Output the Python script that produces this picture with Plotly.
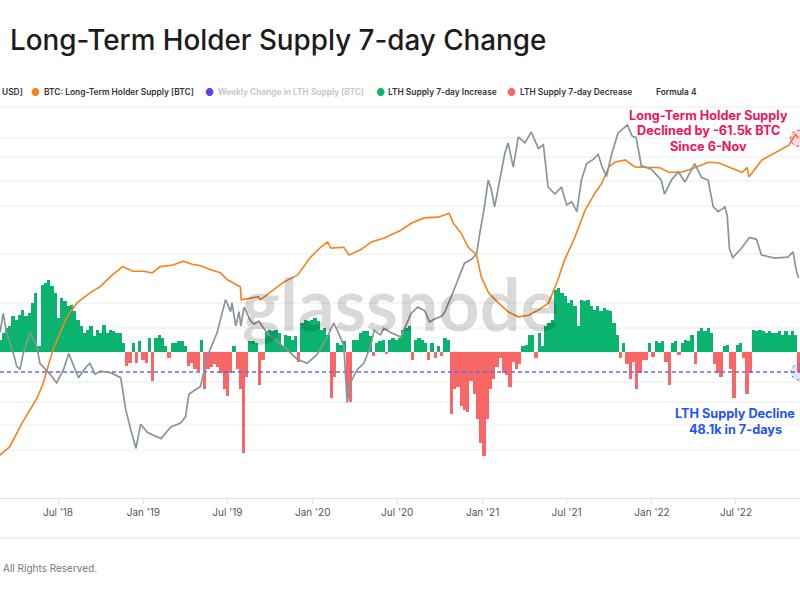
import pandas as pd
import plotly.graph_objects as go

# ---------------- data ----------------
week_start = "2018-02-26"
# weekly LTH supply 7-day change, thousands of BTC
lth_change_k = [
    30, 46, 58, 62, 86, 78, 90, 102, 86, 94, 118, 142,
    14, 162, 166, 172, 158, 142, 82, 130, 122, 110, 114, 98,
    78, 62, 46, 54, 62, 38, 54, 46, 66, 46, 54, 50, 46, 46,
    22, -34, -26, 22, -26, 26, -20, -26, 34, -70, 34, 42, 34, 14, -14, 22, 22, 26, 26, 14, -34, -26, -42, -46,
    30, -90, -40, -35, -30, -35, -50, -90, -105, -50, 14, -40, -90, -243, -60, 26, 26, 22, -80, -20,
    50, 54, 50, 54, 46, 14, 42, 38, 30, 38, -25, 70, 78, 74, 78, 82, 74, 54, 58, 42,
    -110, -60, 22, 18, 26, -110, -120, 30, 30, 46, 50, 50, 38, -10, 22, 26, 30, -5, 30, 34, 30, 34,
    54, 58, 62, -20, 30, 34, 30, 22, -20, 22, -15, 14, -10, 34, 30,
    -150, -90, -85, -130, -140, -145, -70, -100, -160, -220, -250, -160, -90, -65, -35, -15, -50, -55, -85, -25, -40, -30,
    14, 18, 40, 42, -15, 46, 14, 62, 70, 78, 150, 154, 142, 135, 118, 126, 110, 62, 126, 122, 126, 110, 102, 110, 98,
    105, 100, 98, 70, 40, -15, 22, -30, -65, -25, -90, -50, -20, -20, 22, -12, 26, 22, 26, -25, -80, 22, 26, -8, 22, 30, 26, 42,
    -30, 50, 58, 50, 58, 46, -30, -50, -60, 14, 18, -40, -110, 18, 22, -15, -100, -50,
    54, 50, 54, 50, 46, 50, 46, 46, 50, 42, 50, 42, 50, 42, -48.1,
]
LTH_DECLINE_K = -48.1

supply_dates = [
    "2018-02-26", "2018-03-19", "2018-04-16", "2018-05-17", "2018-05-30", "2018-06-20",
    "2018-07-20", "2018-08-11", "2018-09-08", "2018-09-30", "2018-10-22", "2018-11-17",
    "2018-12-10", "2019-01-01", "2019-01-20", "2019-02-06", "2019-03-06", "2019-03-28",
    "2019-04-16", "2019-05-04", "2019-05-26", "2019-06-16", "2019-07-01", "2019-07-23",
    "2019-07-29", "2019-07-31", "2019-08-19", "2019-09-06", "2019-09-10", "2019-10-08",
    "2019-10-30", "2019-11-29", "2019-12-27", "2020-01-18", "2020-02-02", "2020-02-09",
    "2020-03-08", "2020-03-19", "2020-04-14", "2020-05-06", "2020-06-03", "2020-07-09",
    "2020-07-31", "2020-08-28", "2020-09-27", "2020-10-21", "2020-10-30", "2020-11-16",
    "2020-12-01", "2020-12-19", "2020-12-29", "2021-01-14", "2021-02-04", "2021-02-26",
    "2021-03-19", "2021-04-10", "2021-05-02", "2021-05-23", "2021-06-10", "2021-06-27",
    "2021-07-19", "2021-08-10", "2021-08-31", "2021-09-15", "2021-09-30", "2021-10-13",
    "2021-11-04", "2021-11-25", "2021-12-25", "2022-01-18", "2022-02-06", "2022-03-06",
    "2022-04-03", "2022-05-03", "2022-05-25", "2022-06-16", "2022-07-14", "2022-07-25",
    "2022-07-29", "2022-08-26", "2022-09-23", "2022-10-23", "2022-11-06", "2022-11-13",
]
supply_m = [
    9.80, 9.91, 10.23, 10.54, 10.73, 11.16,
    11.59, 11.77, 11.90, 11.98, 12.11, 12.24,
    12.18, 12.18, 12.16, 12.24, 12.26, 12.31,
    12.27, 12.25, 12.20, 12.16, 12.07, 12.00,
    11.98, 11.81, 11.83, 11.85, 11.81, 11.94,
    12.04, 12.13, 12.36, 12.49, 12.56, 12.48,
    12.49, 12.39, 12.46, 12.56, 12.61, 12.71,
    12.80, 12.87, 12.88, 12.93, 12.80, 12.67,
    12.49, 12.39, 12.11, 11.90, 11.77, 11.65,
    11.59, 11.61, 11.68, 11.77, 12.03, 12.33,
    12.62, 12.97, 13.19, 13.32, 13.53, 13.59,
    13.62, 13.53, 13.52, 13.52, 13.46, 13.46,
    13.52, 13.59, 13.58, 13.53, 13.46, 13.52,
    13.40, 13.62, 13.71, 13.81, 13.95, 13.90,
]

price_dates = [
    "2018-02-26", "2018-03-05", "2018-03-12", "2018-03-27", "2018-04-03", "2018-04-10",
    "2018-04-17", "2018-05-02", "2018-05-16", "2018-05-23", "2018-06-14", "2018-06-28",
    "2018-07-13", "2018-07-24", "2018-08-14", "2018-09-01", "2018-09-08", "2018-09-19",
    "2018-09-30", "2018-10-22", "2018-11-13", "2018-11-24", "2018-12-05", "2018-12-16",
    "2018-12-26", "2019-01-10", "2019-01-24", "2019-02-08", "2019-03-01", "2019-03-22",
    "2019-04-02", "2019-04-09", "2019-04-27", "2019-05-04", "2019-05-19", "2019-06-09",
    "2019-06-27", "2019-07-08", "2019-07-11", "2019-07-19", "2019-07-26", "2019-07-30",
    "2019-08-06", "2019-08-13", "2019-08-20", "2019-08-27", "2019-09-07", "2019-09-14",
    "2019-09-24", "2019-10-27", "2019-11-06", "2019-11-28", "2019-12-20", "2020-01-10",
    "2020-02-01", "2020-02-15", "2020-02-23", "2020-03-08", "2020-03-15", "2020-03-22",
    "2020-04-06", "2020-04-20", "2020-05-05", "2020-05-12", "2020-05-26", "2020-06-02",
    "2020-06-17", "2020-07-09", "2020-07-31", "2020-08-14", "2020-08-29", "2020-09-09",
    "2020-09-19", "2020-10-04", "2020-10-11", "2020-10-25", "2020-11-09", "2020-11-23",
    "2020-12-08", "2020-12-19", "2020-12-26", "2021-01-05", "2021-01-13", "2021-01-20",
    "2021-01-27", "2021-02-07", "2021-02-18", "2021-02-25", "2021-03-08", "2021-03-19",
    "2021-04-02", "2021-04-16", "2021-05-01", "2021-05-12", "2021-05-22", "2021-06-06",
    "2021-06-20", "2021-07-01", "2021-07-12", "2021-07-23", "2021-08-02", "2021-08-13",
    "2021-08-28", "2021-09-07", "2021-09-14", "2021-09-25", "2021-10-06", "2021-10-20",
    "2021-11-09", "2021-11-19", "2021-11-28", "2021-12-09", "2021-12-31", "2022-01-21",
    "2022-01-28", "2022-02-12", "2022-02-27", "2022-03-13", "2022-04-03", "2022-04-18",
    "2022-05-02", "2022-05-13", "2022-05-24", "2022-06-07", "2022-06-12", "2022-06-17",
    "2022-06-24", "2022-07-12", "2022-07-30", "2022-08-14", "2022-08-25", "2022-09-22",
    "2022-10-21", "2022-11-01", "2022-11-09", "2022-11-13",
]
price_usd = [
    9400, 11300, 9400, 7700, 6800, 6600,
    7700, 9400, 8300, 7000, 6300, 5800,
    6600, 7700, 6100, 6800, 7000, 6300,
    6500, 6400, 6100, 4500, 3680, 3100,
    3900, 3600, 3500, 3400, 3800, 3950,
    4200, 5200, 5500, 5600, 7500, 9400,
    12900, 11500, 12500, 10000, 11500, 10000,
    12000, 11300, 10500, 10200, 10500, 10000,
    9400, 8300, 8000, 7300, 7000, 7600,
    9000, 10300, 9600, 8300, 4800, 5800,
    6600, 7000, 8300, 9600, 9200, 9800,
    9400, 9000, 11300, 12000, 11600, 10400,
    10700, 11000, 11400, 13200, 15600, 18300,
    19000, 20000, 24400, 31400, 40600, 36900,
    31400, 40600, 52700, 58000, 46000, 61400,
    58000, 64400, 55000, 57000, 38000, 35500,
    38000, 32000, 33000, 30000, 40600, 47500,
    49600, 52000, 47000, 42000, 52000, 63800,
    68900, 62000, 61000, 46600, 45000, 40600,
    35500, 40600, 44000, 39800, 47500, 41600,
    40600, 31400, 30000, 31400, 29000, 21000,
    19300, 21000, 23400, 23000, 19800, 19200,
    19400, 20400, 16700, 15900,
]

x_range = ["2018-02-26", "2022-11-16"]
title_text = "Long-Term Holder Supply 7-day Change"
legend_labels = ["USD]", "BTC: Long-Term Holder Supply [BTC]", "Weekly Change in LTH Supply [BTC]",
                 "LTH Supply 7-day Increase", "LTH Supply 7-day Decrease", "Formula 4"]
note_supply = ["Long-Term Holder Supply", "Declined by -61.5k BTC", "Since 6-Nov"]
note_decline = ["LTH Supply Decline", "48.1k in 7-days"]

# ---------------- layout helpers ----------------
W, H = 800, 600
TOP, BOT = 107, 498          # plot area pixel rows
def py(p):                   # pixel row -> paper y
    return (BOT - p) / (BOT - TOP)
def px(p):
    return p / W

FONT = "Inter, Roboto, sans-serif"
GREEN = "#0bb46e"
RED = "#f86666"
ORANGE = "#f7821b"
GREY = "#87959c"
BLUE_DASH = "#5c6cf2"
PINK = "#f0145a"
BLUE_TXT = "#1d55f5"

week_dates = pd.date_range(week_start, periods=len(lth_change_k), freq="7D")
pos = [v if v > 0 else None for v in lth_change_k]
neg = [v if v < 0 else None for v in lth_change_k]
week_ms = 7 * 24 * 3600 * 1000

# bar axis: zero at pixel 352, decline level at pixel 372
k_per_px = abs(LTH_DECLINE_K) / (372 - 352)
bar_range = [-(BOT - 352) * k_per_px, (352 - TOP) * k_per_px]

fig = go.Figure()
fig.add_trace(go.Bar(x=week_dates, y=pos, width=week_ms, marker=dict(color=GREEN, line_width=0),
                     yaxis="y", showlegend=False))
fig.add_trace(go.Bar(x=week_dates, y=neg, width=week_ms, marker=dict(color=RED, line_width=0),
                     yaxis="y", showlegend=False))
fig.add_trace(go.Scatter(x=x_range, y=[LTH_DECLINE_K, LTH_DECLINE_K], mode="lines",
                         line=dict(color=BLUE_DASH, width=1.6, dash="4px,3px"), yaxis="y", showlegend=False))
fig.add_trace(go.Scatter(x=price_dates, y=price_usd, mode="lines", line=dict(color=GREY, width=1.7),
                         yaxis="y3", showlegend=False))
fig.add_trace(go.Scatter(x=supply_dates, y=supply_m, mode="lines", line=dict(color=ORANGE, width=1.6),
                         yaxis="y2", showlegend=False))

shapes = []
for g in [107, 138, 157, 181, 206, 254, 303, 328, 352, 382, 402, 425, 450]:
    shapes.append(dict(type="line", xref="paper", yref="paper", x0=0, x1=1, y0=py(g), y1=py(g),
                       line=dict(color="#ececec", width=1), layer="below"))
shapes.append(dict(type="line", xref="paper", yref="paper", x0=0, x1=1, y0=py(538), y1=py(538),
                   line=dict(color="#e6e6e6", width=1)))
shapes.append(dict(type="circle", xref="x", yref="y2", xsizemode="pixel", ysizemode="pixel",
                   xanchor=supply_dates[-1], yanchor=supply_m[-1], x0=-8, x1=8, y0=-8, y1=8,
                   fillcolor="rgba(240,20,90,0.15)", line=dict(color=PINK, width=1, dash="dot")))
shapes.append(dict(type="circle", xref="x", yref="y", xsizemode="pixel", ysizemode="pixel",
                   xanchor=week_dates[-1], yanchor=LTH_DECLINE_K, x0=-8, x1=8, y0=-8, y1=8,
                   fillcolor="rgba(60,90,240,0.15)", line=dict(color=BLUE_DASH, width=1, dash="dot")))

ann = []
# watermark
ann.append(dict(text="glassnode", xref="paper", yref="paper", x=px(400), y=py(303), showarrow=False,
                font=dict(family="Lato, sans-serif", size=72, color="rgba(0,0,0,0.15)", weight=700)))
# legend row
leg_y = py(92)
dot_x = [None, 35, 209, 380, 511, None]
txt_x = [0, 42, 216, 386, 518, 654]
dot_c = [None, ORANGE, "#5b3ff0", GREEN, RED, None]
txt_c = ["#333", "#333", "#c4c4c4", "#333", "#333", "#333"]
for lbl, dx, tx, dc, tc in zip(legend_labels, dot_x, txt_x, dot_c, txt_c):
    if dx is not None:
        ann.append(dict(text="●", xref="paper", yref="paper", x=px(dx), y=leg_y, xanchor="center",
                        yanchor="middle", showarrow=False, font=dict(family=FONT, size=10, color=dc)))
    ann.append(dict(text=lbl, xref="paper", yref="paper", x=px(tx), y=leg_y, xanchor="left",
                    yanchor="middle", showarrow=False,
                    font=dict(family=FONT, size=8.4, color=tc, weight=600)))
# annotations
for i, t in enumerate(note_supply):
    ann.append(dict(text=t, xref="paper", yref="paper", x=px(708), y=py(115 + 15.5 * i), xanchor="center",
                    yanchor="middle", showarrow=False, font=dict(family=FONT, size=12.7, color=PINK, weight=700)))
for i, t in enumerate(note_decline):
    ann.append(dict(text=t, xref="paper", yref="paper", x=px(735), y=py(413 + 16 * i), xanchor="center",
                    yanchor="middle", showarrow=False, font=dict(family=FONT, size=12.7, color=BLUE_TXT, weight=700)))
# title & footer
ann.append(dict(text=title_text, xref="paper", yref="paper", x=px(8), y=py(40), xanchor="left",
                yanchor="middle", showarrow=False, font=dict(family=FONT, size=27.8, color="#1c1c1c", weight=500)))
ann.append(dict(text="All Rights Reserved.", xref="paper", yref="paper", x=px(1), y=py(568), xanchor="left",
                yanchor="middle", showarrow=False, font=dict(family=FONT, size=10, color="#777")))

fig.update_layout(
    width=W, height=H, margin=dict(l=0, r=0, t=TOP, b=H - BOT),
    paper_bgcolor="white", plot_bgcolor="white",
    barmode="overlay", bargap=0, showlegend=False,
    xaxis=dict(type="date", range=x_range, tickformat="%b '%y", dtick="M6", tick0="2018-01-01",
               showgrid=False, zeroline=False, showline=True, linecolor="#e3e3e3",
               ticks="outside", ticklen=5, tickcolor="#e3e3e3",
               tickfont=dict(family=FONT, size=10, color="#555")),
    yaxis=dict(range=bar_range, visible=False, showgrid=False, zeroline=False),
    yaxis2=dict(range=[9.246, 14.305], overlaying="y", visible=False, showgrid=False),
    yaxis3=dict(type="log", range=[3.284, 4.913], overlaying="y", visible=False, showgrid=False),
    shapes=shapes, annotations=ann,
)

fig.write_html("out.html")
